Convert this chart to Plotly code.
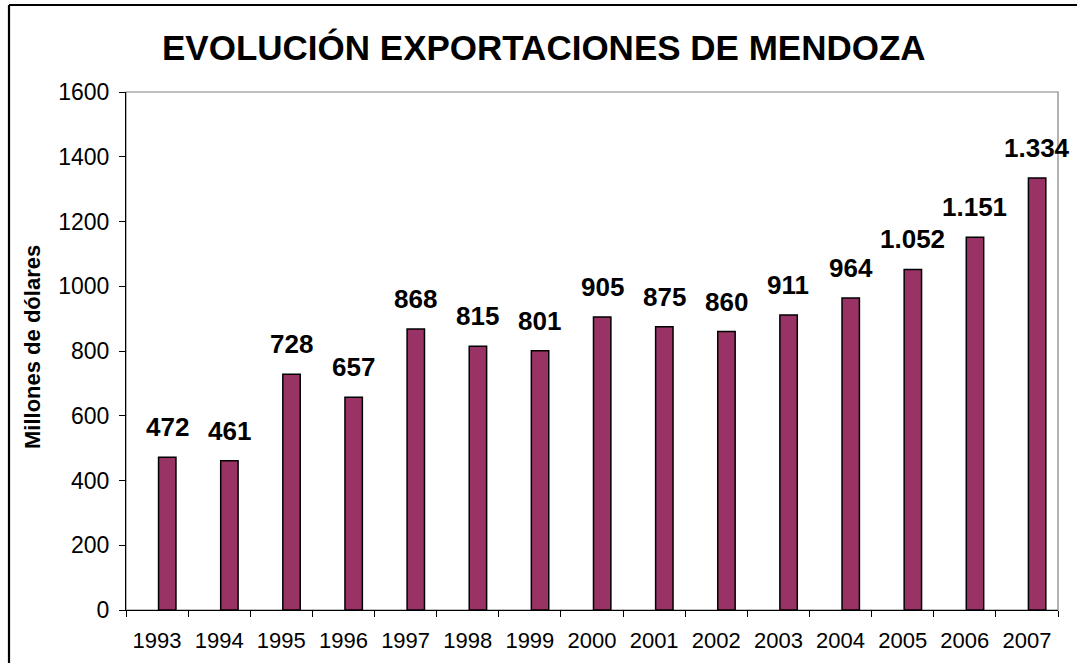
import plotly.graph_objects as go

years = ["1993", "1994", "1995", "1996", "1997", "1998", "1999", "2000",
         "2001", "2002", "2003", "2004", "2005", "2006", "2007"]
exports = [472, 461, 728, 657, 868, 815, 801, 905, 875, 860, 911, 964, 1052, 1151, 1334]
y_ticks = [0, 200, 400, 600, 800, 1000, 1200, 1400, 1600]

title_text = "EVOLUCIÓN EXPORTACIONES DE MENDOZA"
y_title = "Millones de dólares"

W, H = 1077, 663
L, R, T, B = 126, 19, 92, 53
pw, ph = W - L - R, H - T - B
FONT = "Arial, Liberation Sans, sans-serif"

def fmt(v):
    return f"{v:,}".replace(",", ".")

def px(xp):
    return (xp - L) / pw

def py(yp):
    return (H - B - yp) / ph

fig = go.Figure()
fig.add_trace(go.Bar(
    x=years, y=exports,
    width=0.28, offset=0.024,
    marker=dict(color="#993366", line=dict(color="black", width=1.5)),
    hoverinfo="x+y",
))

for i, v in enumerate(exports):
    fig.add_annotation(
        x=i, y=v, xref="x", yref="y", text=f"<b>{fmt(v)}</b>", showarrow=False,
        xanchor="center", yanchor="bottom", xshift=10, yshift=13,
        font=dict(family=FONT, size=26, color="black"),
    )

# title
fig.add_annotation(
    x=px(544), y=py(48), xref="paper", yref="paper",
    text=f"<b>{title_text}</b>", showarrow=False, xanchor="center", yanchor="middle",
    font=dict(family=FONT, size=35, color="black"),
)
# y axis title
fig.add_annotation(
    x=px(32), y=py(347), xref="paper", yref="paper",
    text=f"<b>{y_title}</b>", showarrow=False, textangle=-90,
    xanchor="center", yanchor="middle",
    font=dict(family=FONT, size=22, color="black"),
)

# plot area border (grey)
fig.add_shape(type="rect", xref="paper", yref="paper", x0=0, x1=1, y0=0, y1=1,
              line=dict(color="#808080", width=1.2), layer="below")
# outer figure border (left and top edges visible in frame)
fig.add_shape(type="line", xref="paper", yref="paper",
              x0=px(9), x1=px(9), y0=py(H + 2), y1=py(5),
              line=dict(color="black", width=2.2))
fig.add_shape(type="line", xref="paper", yref="paper",
              x0=px(9), x1=px(W + 2), y0=py(5), y1=py(5),
              line=dict(color="black", width=2.2))

fig.update_layout(
    width=W, height=H,
    margin=dict(l=L, r=R, t=T, b=B, pad=0, autoexpand=False),
    paper_bgcolor="white", plot_bgcolor="white",
    showlegend=False,
    font=dict(family=FONT, color="black"),
    xaxis=dict(
        type="category", tickson="boundaries", ticks="outside", ticklen=6,
        tickcolor="black", tickwidth=1, ticklabelstandoff=11,
        showline=True, linecolor="black", linewidth=1, automargin=False,
        showgrid=False, tickfont=dict(size=22, family=FONT),
        range=[-0.5, len(years) - 0.5],
    ),
    yaxis=dict(
        range=[0, 1600], tickvals=y_ticks, ticks="outside", ticklen=6,
        tickcolor="black", tickwidth=1, ticklabelstandoff=5,
        showline=True, linecolor="black", linewidth=1, automargin=False,
        showgrid=False, zeroline=False, tickfont=dict(size=23, family=FONT),
    ),
)

fig.write_html(
    "out.html",
    config={"displayModeBar": False},
    post_script="document.body.style.margin='0';document.body.style.overflow='hidden';",
)
